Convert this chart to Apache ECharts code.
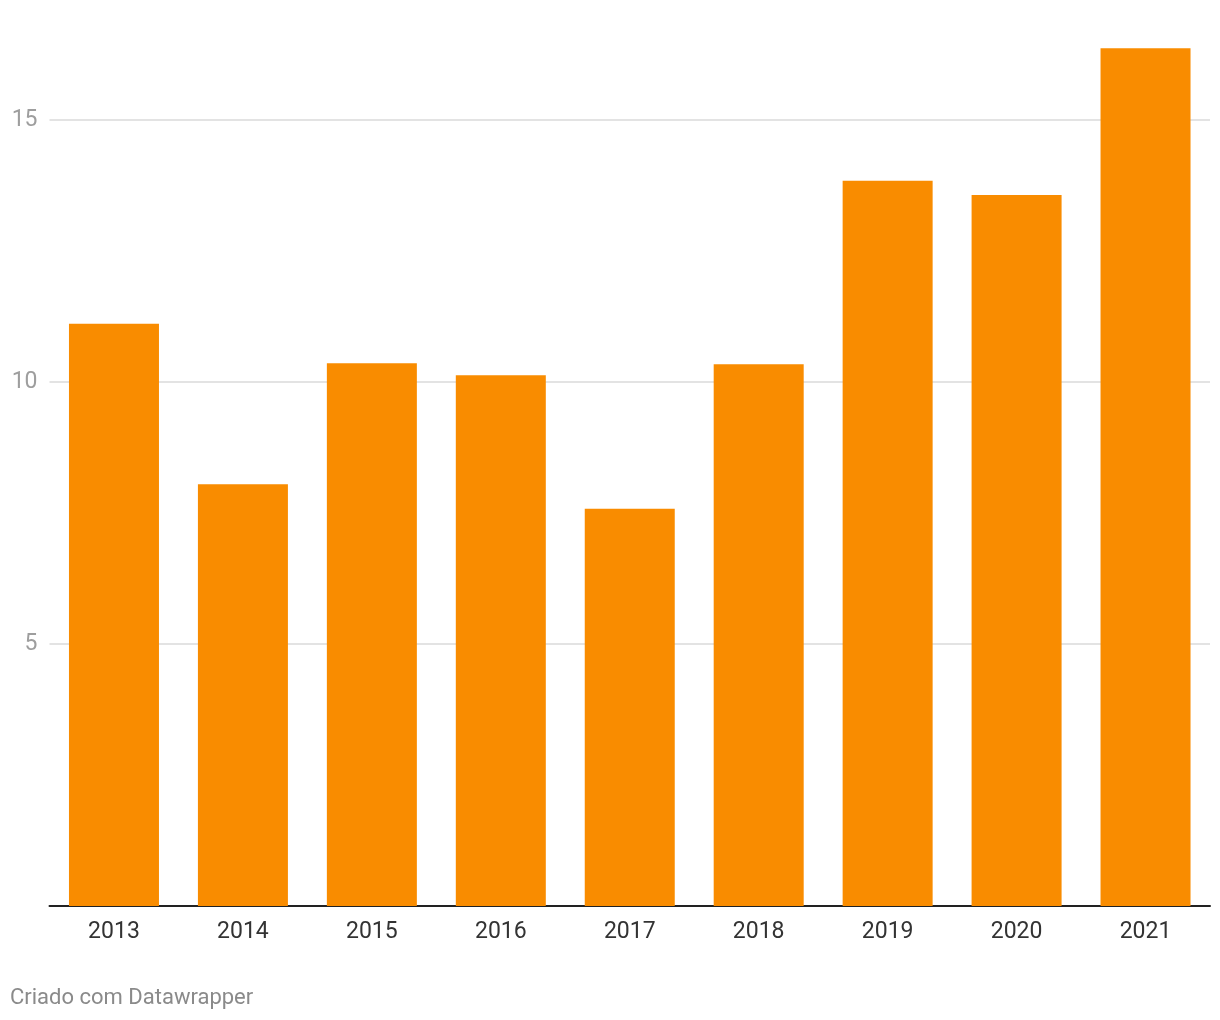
<!DOCTYPE html>
<html>
<head>
<meta charset="utf-8">
<script src="https://cdn.jsdelivr.net/npm/echarts@6/dist/echarts.min.js"></script>
<style>
html,body{margin:0;padding:0;background:#fff;}
#chart{width:1220px;height:1020px;}
</style>
</head>
<body>
<div id="chart"></div>
<script>
const categories = ['2013','2014','2015','2016','2017','2018','2019','2020','2021'];
const values = [11.11, 8.05, 10.36, 10.13, 7.58, 10.34, 13.84, 13.57, 16.37];
const yTicks = [0, 5, 10, 15];

const chart = echarts.init(document.getElementById('chart'));
chart.setOption({
  animation: false,
  backgroundColor: '#fff',
  textStyle: { fontFamily: 'Roboto' },
  grid: { left: 49.5, right: 10, top: 15.2, bottom: 114, containLabel: false },
  graphic: [{
    type: 'text', left: 10, top: 987,
    style: { text: 'Criado com Datawrapper', fill: '#8a8a8a', font: '22px Roboto' }
  }],
  xAxis: {
    type: 'category',
    data: categories,
    axisLine: { show: true, lineStyle: { color: '#222', width: 2 } },
    axisTick: { show: false },
    axisLabel: { color: '#333', fontSize: 23, margin: 15 }
  },
  yAxis: {
    type: 'value',
    min: 0, max: 17, interval: 5,
    axisLine: { show: false },
    axisTick: { show: false },
    splitLine: { show: true, showMaxLine: false, showMinLine: false, lineStyle: { color: '#e3e3e3', width: 2 } },
    axisLabel: {
      color: '#9e9e9e', fontSize: 23, margin: 12, showMaxLabel: false,
      formatter: v => (yTicks.indexOf(v) > 0 ? String(v) : '')
    }
  },
  series: [{
    type: 'bar',
    data: values,
    barWidth: 90,
    itemStyle: { color: '#F98C00' }
  }]
});
</script>
</body>
</html>
